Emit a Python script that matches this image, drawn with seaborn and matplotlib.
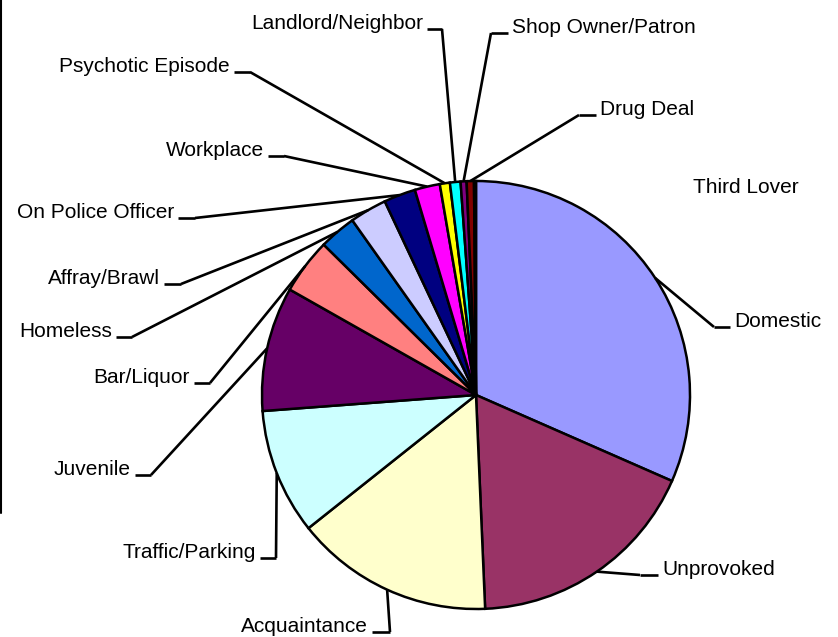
import numpy as np
import matplotlib
matplotlib.use("Agg")
import matplotlib.pyplot as plt
import seaborn as sns

# Share of incidents by context (percent), clockwise from 12 o'clock
categories = ["Domestic", "Unprovoked", "Acquaintance", "Traffic/Parking", "Juvenile",
              "Bar/Liquor", "Homeless", "Affray/Brawl", "On Police Officer", "Workplace",
              "Psychotic Episode", "Landlord/Neighbor", "Shop Owner/Patron", "Drug Deal",
              "Third Lover"]
shares = [31.6, 17.75, 15.0, 9.5, 9.4, 4.2, 2.8, 2.8, 2.4, 1.9, 0.76, 0.8, 0.45, 0.55, 0.15]
slice_colors = ["#9999FF", "#993366", "#FFFFCC", "#CCFFFF", "#660066", "#FF8080",
                "#0066CC", "#CCCCFF", "#000080", "#FF00FF", "#FFFF00", "#00FFFF",
                "#800080", "#800000", "#008080"]

# Label placement in pixel space: (side, text edge x, baseline y, elbow length)
W, H = 838, 637
label_layout = {
    "Domestic":           ("right", 734, 327, 16),
    "Unprovoked":         ("right", 662, 575, 18),
    "Acquaintance":       ("left", 368, 632, 18),
    "Traffic/Parking":    ("left", 256, 558, 16),
    "Juvenile":           ("left", 131, 475, 16),
    "Bar/Liquor":         ("left", 190, 383, 16),
    "Homeless":           ("left", 112, 337, 16),
    "Affray/Brawl":       ("left", 160, 284, 17),
    "On Police Officer":  ("left", 174, 218, 17),
    "Workplace":          ("left", 264, 156, 16),
    "Psychotic Episode":  ("left", 230, 72, 16),
    "Landlord/Neighbor":  ("left", 423, 29, 15),
    "Shop Owner/Patron":  ("right", 512, 33, 17),
    "Drug Deal":          ("right", 600, 115, 17),
    "Third Lover":        ("right", 693, 193, 0),
}

sns.set_theme(style="white")
plt.rcParams["font.family"] = ["Liberation Sans", "DejaVu Sans"]

fig = plt.figure(figsize=(W / 100, H / 100), dpi=100)
ax = fig.add_axes([0, 0, 1, 1])

cx, cy, r = 476, H - 395, 214
wedges, _ = ax.pie(shares, colors=slice_colors, startangle=90, counterclock=False,
                   center=(cx, cy), radius=r,
                   wedgeprops=dict(edgecolor="black", linewidth=1.8))

ax.set_xlim(0, W)
ax.set_ylim(0, H)
ax.set_aspect("equal")
ax.axis("off")

for name, wedge in zip(categories, wedges):
    side, tx, by, elbow = label_layout[name]
    y = H - by
    if side == "left":
        ax.text(tx, y, name, ha="right", va="baseline", fontsize=15, color="black")
        x0, x1 = tx + 4, tx + 4 + elbow
    else:
        ax.text(tx, y, name, ha="left", va="baseline", fontsize=15, color="black")
        x1, x0 = tx - 4, tx - 4 - elbow
    if elbow == 0:
        continue
    mid = np.deg2rad((wedge.theta1 + wedge.theta2) / 2)
    ex, ey = cx + r * np.cos(mid), cy + r * np.sin(mid)
    # connect the elbow end nearest the pie to the slice's outer midpoint
    near = x1 if side == "left" else x0
    ax.plot([x0, x1], [y, y], color="black", lw=1.9, solid_capstyle="butt")
    ax.plot([near, ex], [y, ey], color="black", lw=1.9, solid_capstyle="butt")

# thin frame remnant along the left edge
ax.plot([1, 1], [H, H - 513], color="black", lw=1.5)

fig.savefig("out.png", dpi=100)
